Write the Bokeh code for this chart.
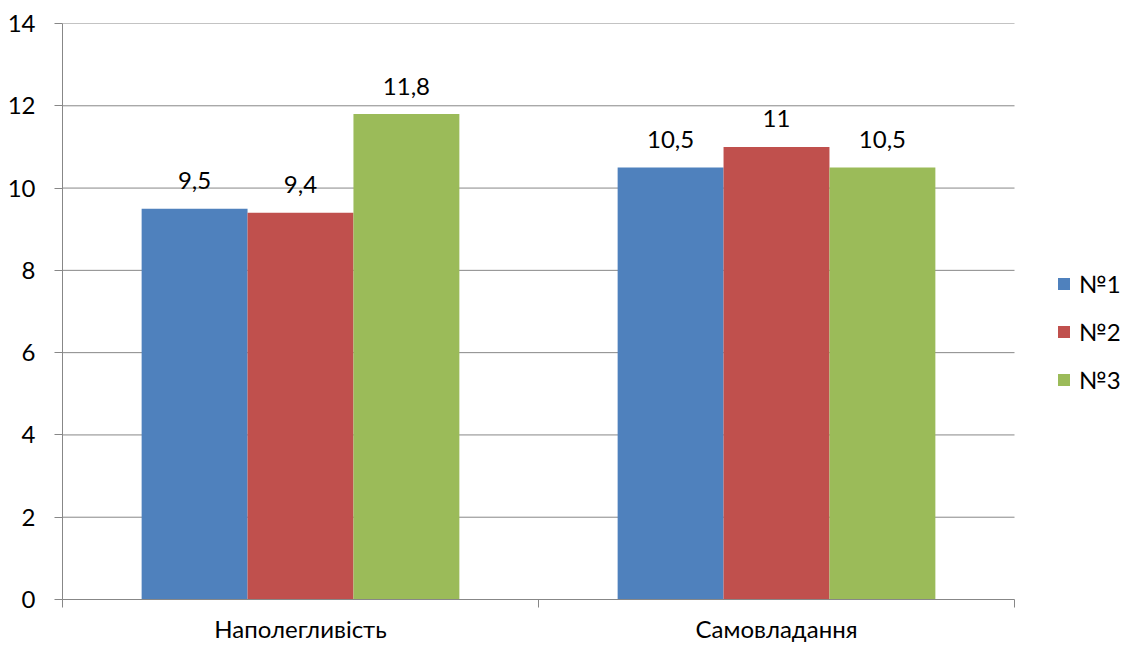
from bokeh.plotting import figure
from bokeh.models import (ColumnDataSource, FixedTicker, Legend, LegendItem, Range1d)
from bokeh.transform import dodge
from bokeh.core.properties import value
from bokeh.embed import file_html
from bokeh.resources import INLINE

categories = ["Наполегливість", "Самовладання"]
series_names = ["№1", "№2", "№3"]
s1 = [9.5, 10.5]
s2 = [9.4, 11.0]
s3 = [11.8, 10.5]
colors = ["#4F81BD", "#C0504D", "#9BBB59"]
y_ticks = [0, 2, 4, 6, 8, 10, 12, 14]

FONT = "Lato"
FS = "24px"
GRID = "#878787"

W, H = 1132, 645
LEFT, RIGHT_AXIS_END, TOP, BOTTOM = 62, 1014, 23, 600

def fmt(v):
    return ("%g" % v).replace(".", ",")

n_cat = len(categories)
xpos = [i + 0.5 for i in range(n_cat)]
src = ColumnDataSource(dict(
    x=xpos, cat=categories,
    s1=s1, s2=s2, s3=s3,
    l1=[fmt(v) for v in s1], l2=[fmt(v) for v in s2], l3=[fmt(v) for v in s3],
))

# frame extends to the right edge so the legend can live inside it;
# axis and grid are bounded to the category span
x_end = n_cat * (W - LEFT) / (RIGHT_AXIS_END - LEFT)
p = figure(width=W, height=H, output_backend="svg", toolbar_location=None,
           x_range=Range1d(0, x_end), y_range=Range1d(0, 14),
           min_border_left=LEFT, min_border_right=0, min_border_top=TOP,
           min_border_bottom=H - BOTTOM)
p.outline_line_color = None
p.background_fill_color = "white"

# horizontal gridlines (bounded to the category span)
gy = [t for t in y_ticks if t > 0]
p.segment(x0=[0] * len(gy), x1=[n_cat] * len(gy), y0=gy, y1=gy,
          line_color=GRID, line_width=1)

bw = 0.2225
offsets = [-bw, 0.0, bw]
renderers = []
for key, lab, off, col in zip(["s1", "s2", "s3"], ["l1", "l2", "l3"], offsets, colors):
    r = p.vbar(x=dodge("x", off), top=key, width=bw, bottom=0, source=src,
               fill_color=col, line_color=None)
    renderers.append(r)
    p.text(x=dodge("x", off), y=key, text=lab, source=src,
           text_align="center", text_baseline="alphabetic", y_offset=-28,
           text_font=value(FONT), text_font_size=FS, text_color="black")

xa = p.xaxis[0]
xa.bounds = (0, n_cat)
xa.ticker = FixedTicker(ticks=xpos, minor_ticks=[float(i) for i in range(n_cat + 1)])
xa.major_label_overrides = {x: c for x, c in zip(xpos, categories)}
xa.major_tick_line_color = None
xa.major_tick_in = 0
xa.major_tick_out = 8
xa.minor_tick_in = 0
xa.minor_tick_out = 8
xa.minor_tick_line_color = GRID
xa.axis_line_color = GRID
xa.major_label_text_font = FONT
xa.major_label_text_font_size = FS
xa.major_label_text_color = "black"
xa.major_label_standoff = 6

ya = p.yaxis[0]
ya.ticker = FixedTicker(ticks=y_ticks)
ya.major_tick_in = 0
ya.major_tick_out = 8
ya.major_tick_line_color = GRID
ya.minor_tick_line_color = None
ya.axis_line_color = GRID
ya.major_label_text_font = FONT
ya.major_label_text_font_size = FS
ya.major_label_text_color = "black"
ya.major_label_standoff = 19

p.xgrid.grid_line_color = None
p.ygrid.grid_line_color = None

legend = Legend(items=[LegendItem(label=n, renderers=[r]) for n, r in zip(series_names, renderers)],
                location=(994, 205), orientation="vertical")
legend.border_line_color = None
legend.background_fill_alpha = 0
legend.padding = 0
legend.margin = 0
legend.glyph_width = 15
legend.glyph_height = 15
legend.label_standoff = 8
legend.label_height = 30
legend.spacing = 18
legend.label_text_font = FONT
legend.label_text_font_size = FS
legend.label_text_color = "black"
p.add_layout(legend, "center")

open("out.html", "w").write(file_html(p, INLINE))
